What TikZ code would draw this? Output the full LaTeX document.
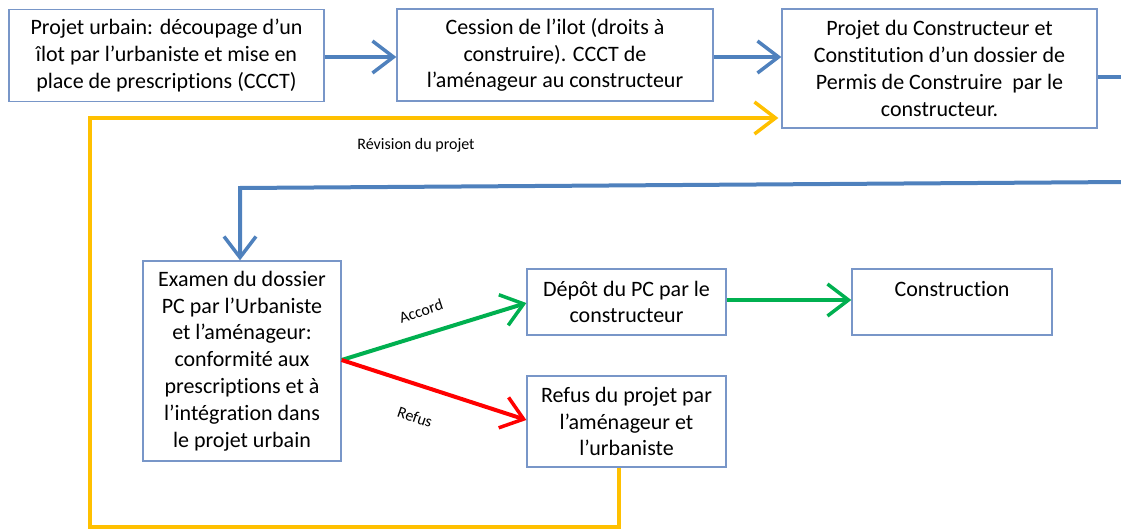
\documentclass[tikz,border=0pt]{standalone}
\usepackage{fontspec}
\setmainfont{Carlito}[Ligatures=NoCommon]
\usetikzlibrary{arrows.meta}
\definecolor{obl}{RGB}{79,129,189}
\definecolor{obd}{RGB}{120,150,200}
\definecolor{ogr}{RGB}{0,176,80}
\definecolor{ord}{RGB}{255,0,0}
\definecolor{oyl}{RGB}{255,192,0}
\tikzset{
  box/.style={draw=obd, line width=1.3pt, fill=white, align=center, inner sep=0pt,
    font=\fontsize{22}{26.8}\selectfont},
  conn/.style={line width=4pt, -{Straight Barb[length=21pt,width=32pt,line width=3.5pt]}},
  plain/.style={line width=4pt},
  lbl/.style={font=\fontsize{16}{18}\selectfont, inner sep=0pt}
}
\begin{document}
\begin{tikzpicture}[x=1pt,y=-1pt]
\useasboundingbox (0,0) rectangle (1121,532);
\node[box, minimum width=315pt, minimum height=92pt] (b1) at (166.5,55.5)
  {Projet urbain: découpage d’un\\îlot par l’urbaniste et mise en\\place de prescriptions (CCCT)};
\node[box, minimum width=316pt, minimum height=92pt] (b2) at (555,55)
  {Cession de l’ilot (droits à\\construire). CCCT de\\l’aménageur au constructeur};
\node[box, minimum width=315pt, minimum height=119pt] (b3) at (939.5,68.5)
  {Projet du Constructeur et\\Constitution d’un dossier de\\Permis de Construire\ \ par le\\constructeur.};
\node[box, minimum width=198pt, minimum height=200pt] (b4) at (242,361)
  {Examen du dossier\\PC par l’Urbaniste\\et l’aménageur:\\conformité aux\\prescriptions et à\\l’intégration dans\\le projet urbain};
\node[box, minimum width=199pt, minimum height=66pt] (b5) at (626.5,302)
  {Dépôt du PC par le\\constructeur};
\node[box, minimum width=200pt, minimum height=66pt] (b6) at (952,302)
  {Construction\\\mbox{}};
\node[box, minimum width=199pt, minimum height=91pt] (b7) at (626.5,421.5)
  {Refus du projet par\\l’aménageur et\\l’urbaniste};

\coordinate (r1) at (1125,77);
\coordinate (r2) at (1125,182);
\coordinate (r3) at (240,188);
\coordinate (y1) at (619,527);
\coordinate (y2) at (90,527);
\coordinate (y3) at (90,118);
\coordinate (y4) at (b3.west |- 0,118);
\coordinate (split) at (b4.east |- 0,360);

\draw[conn, obl] (b1.east |- 0,57) -- (b2.west |- 0,57);
\draw[conn, obl] (b2.east |- 0,57) -- (b3.west |- 0,57);
\draw[plain, obl] (b3.east |- r1) -- (r1);
\draw[conn, obl, line join=miter] (r2) -- (r3) -- (b4.north -| r3);
\draw[conn, ogr] (split) -- (b5.west |- 0,303);
\draw[conn, ord] (split) -- (b7.west |- 0,420);
\draw[conn, ogr] (b5.east |- 0,300) -- (b6.west |- 0,300);
\draw[conn, oyl, line join=miter] (b7.south -| y1) -- (y1) -- (y2) -- (y3) -- ([xshift=-3pt]y4);

\node[lbl, rotate=18] (la) at (421,311) {Accord};
\node[lbl, rotate=-19] (lr) at (415,417) {Refus};
\node[lbl] (lv) at (416,145) {Révision du projet};
\end{tikzpicture}
\end{document}
